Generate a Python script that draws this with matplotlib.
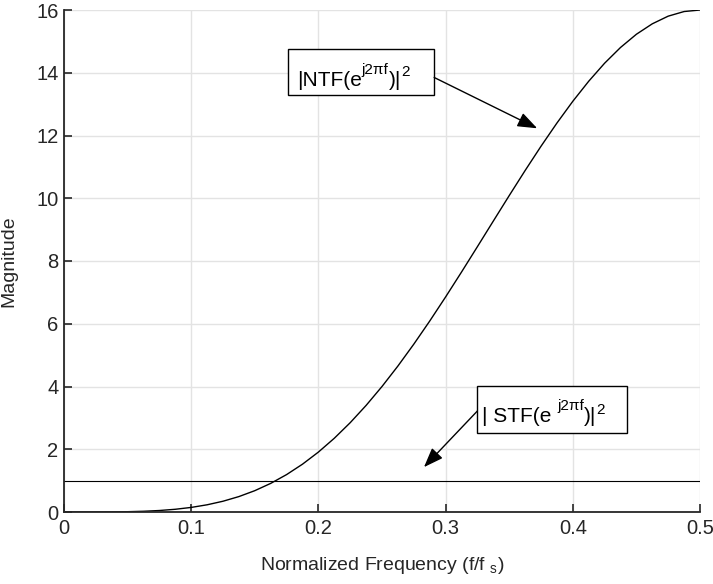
import matplotlib

matplotlib.use("Agg")
import matplotlib.pyplot as plt
from matplotlib.patches import Rectangle

plt.rcParams["font.family"] = ["Liberation Sans", "DejaVu Sans"]
plt.rcParams["mathtext.fontset"] = "custom"
plt.rcParams["mathtext.rm"] = "Liberation Sans"
plt.rcParams["mathtext.it"] = "Liberation Sans:italic"

# |NTF|^2 of the second-order modulator, sampled across 0..fs/2
freq = [0.0, 0.0125, 0.025, 0.0375, 0.05, 0.0625, 0.075, 0.0875, 0.1, 0.1125,
        0.125, 0.1375, 0.15, 0.1625, 0.175, 0.1875, 0.2, 0.2125, 0.225, 0.2375,
        0.25, 0.2625, 0.275, 0.2875, 0.3, 0.3125, 0.325, 0.3375, 0.35, 0.3625,
        0.375, 0.3875, 0.4, 0.4125, 0.425, 0.4375, 0.45, 0.4625, 0.475, 0.4875, 0.5]
ntf_mag = [0.0, 0.0, 0.0006, 0.0031, 0.0096, 0.0232, 0.0475, 0.0869, 0.1459, 0.2296,
           0.3431, 0.4916, 0.6797, 0.912, 1.1925, 1.5243, 1.9098, 2.3503, 2.8464, 3.3969,
           4.0, 4.6523, 5.3495, 6.0852, 6.8541, 7.6472, 8.4565, 9.2723, 10.0842, 10.8826,
           11.6569, 12.396, 13.09, 13.729, 14.304, 14.805, 15.227, 15.56, 15.804, 15.951, 16.0]

# |STF|^2 is flat at unity
stf_freq = [0.0, 0.5]
stf_mag = [1.0, 1.0]

x_ticks = [0, 0.1, 0.2, 0.3, 0.4, 0.5]
x_tick_labels = ["0", "0.1", "0.2", "0.3", "0.4", "0.5"]
y_ticks = [0, 2, 4, 6, 8, 10, 12, 14, 16]

FS = 14.5
FS_BOX = 15
FS_SUP = 11
INK = "#262626"


def rich_text(ax, x, y, parts):
    """Lay out (text, rise_pt, size) pieces left to right, all hung off the first
    piece's bottom edge so raised pieces don't shift the ones after them."""
    text, _, size = parts[0]
    first = ax.text(x, y, text, transform=ax.transAxes, fontsize=size,
                    va="baseline", ha="left", zorder=6)
    prev = first
    for text, rise, size in parts[1:]:
        prev = ax.annotate(text, xy=(1, 0), xycoords=(prev, first),
                           xytext=(0, rise), textcoords="offset points",
                           fontsize=size, va="bottom", ha="left", zorder=6)
    return first


fig = plt.figure(figsize=(7.13, 5.84), dpi=100)
ax = fig.add_axes([64 / 713, 1 - 512 / 584, 636 / 713, 502 / 584])

ax.plot(freq, ntf_mag, color="black", lw=1.0)
ax.plot(stf_freq, stf_mag, color="black", lw=0.8)

ax.set_xlim(0, 0.5)
ax.set_ylim(0, 16)
ax.set_xticks(x_ticks)
ax.set_xticklabels(x_tick_labels)
ax.set_yticks(y_ticks)
ax.grid(True, color="#e3e3e3", lw=1.0)
ax.set_axisbelow(True)

for side in ("top", "right"):
    ax.spines[side].set_visible(False)
for side in ("left", "bottom"):
    ax.spines[side].set_linewidth(1.3)
    ax.spines[side].set_color(INK)
ax.tick_params(direction="in", length=6, width=1.2, colors=INK,
               labelsize=FS, pad=5)
ax.tick_params(axis="y", pad=4)

ax.set_xlabel(r"Normalized Frequency (f/f $_{\mathrm{s}}$)", fontsize=14, color=INK)
ax.set_ylabel("Magnitude", fontsize=14, color=INK)
ax.xaxis.set_label_coords(0.5, -0.085)
ax.yaxis.set_label_coords(-0.074, 0.5)

# annotation boxes (axes fraction)
ax.add_patch(Rectangle((0.352, 0.831), 0.230, 0.091, transform=ax.transAxes,
                       fc="white", ec="black", lw=1.0, zorder=5))
rich_text(ax, 0.366, 0.849, [("|NTF(e", 0, FS_BOX), ("j2πf", 9.5, FS_SUP),
                             (")|", 0, FS_BOX), ("2", 8, FS_SUP)])

ax.add_patch(Rectangle((0.649, 0.157), 0.236, 0.094, transform=ax.transAxes,
                       fc="white", ec="black", lw=1.0, zorder=5))
rich_text(ax, 0.657, 0.179, [("| STF(e ", 0, FS_BOX), ("j2πf", 9.5, FS_SUP),
                             (")|", 0, FS_BOX), ("2", 6.5, FS_SUP)])

arrow = dict(arrowstyle="-|>,head_length=1.2,head_width=0.45", color="black",
             lw=1.0, shrinkA=0, shrinkB=0)
ax.annotate("", xy=(0.372, 12.23), xytext=(0.291, 13.85), arrowprops=arrow, zorder=6)
ax.annotate("", xy=(0.283, 1.43), xytext=(0.325, 3.22), arrowprops=arrow, zorder=6)

fig.savefig("out.png", dpi=100)
